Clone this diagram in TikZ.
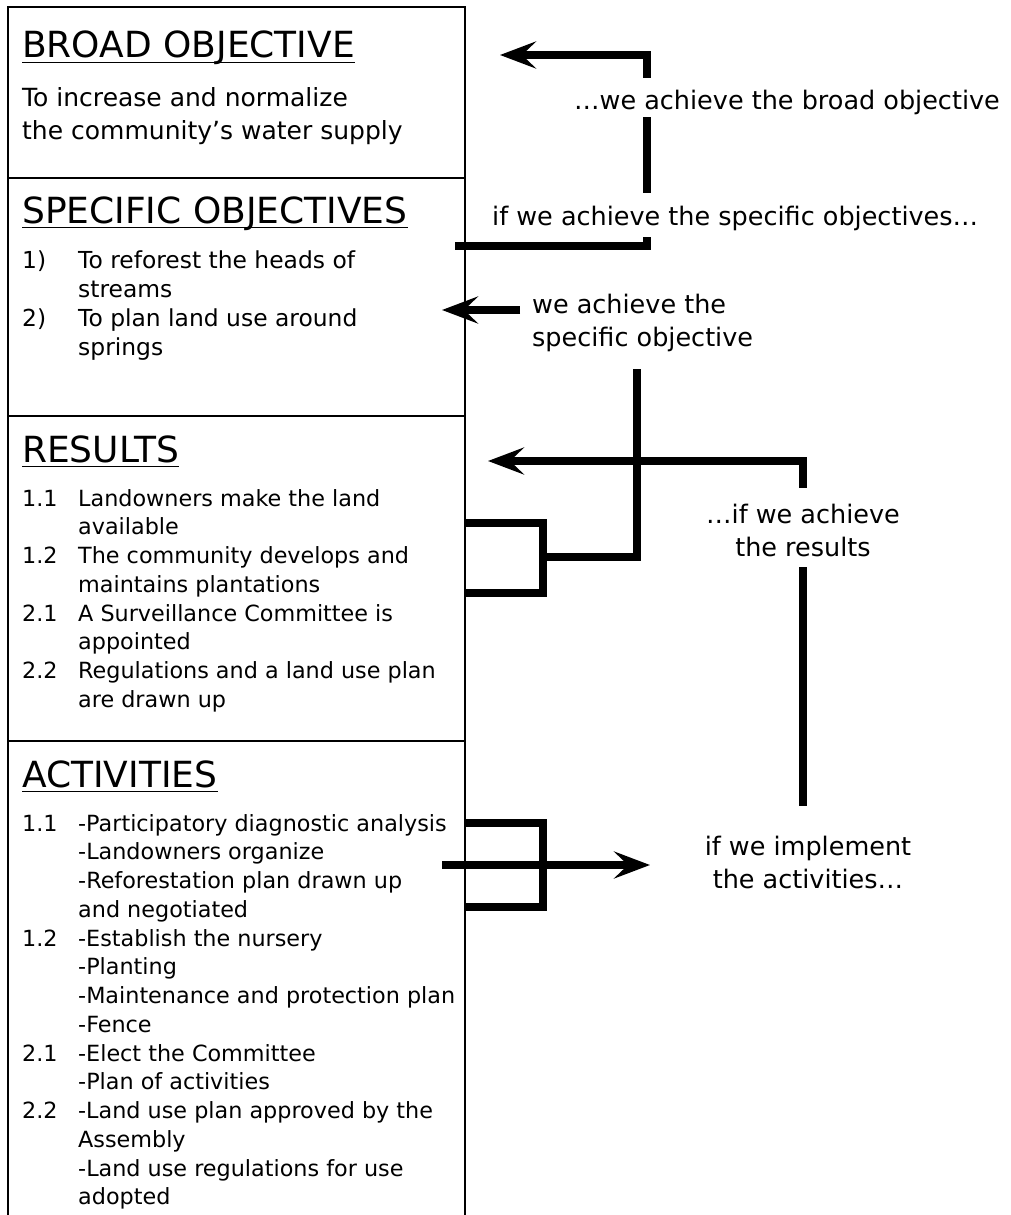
\documentclass[tikz,border=0pt]{standalone}
\usepackage{fontspec}
\setmainfont{DejaVu Sans}
\usetikzlibrary{arrows.meta,positioning}
\tikzset{
  lf/sect/.style={draw, line width=2.4pt, minimum width=457pt, anchor=north west, inner sep=0pt, outer sep=0pt},
  lf/head/.style={anchor=base west, inner sep=0pt, font=\fontsize{36}{40}\selectfont},
  lf/body/.style={anchor=base west, inner sep=0pt, font=\fontsize{22.3}{28.75}\selectfont},
  lf/txt/.style={inner sep=0pt, font=\fontsize{25.5}{33}\selectfont},
  lf/flow/.style={line width=7.5pt},
  lf/arrow/.style={lf/flow, -{Stealth[length=36pt, width=27pt, inset=14pt]}},
  lf/ul/.style={line width=1.7pt}
}

\begin{document}
\begin{tikzpicture}[x=1pt, y=-1pt]
  \useasboundingbox (0,0) rectangle (1011,1215);

  % the four levels of the framework
  \node[lf/sect, minimum height=171pt] (broad) at (8,7) {};
  \node[lf/sect, below=0pt of broad, minimum height=238pt] (spec) {};
  \node[lf/sect, below=0pt of spec, minimum height=325pt] (res) {};
  \node[lf/sect, below=0pt of res, minimum height=500pt] (act) {};

  % headings
  \node[lf/head] (hbroad) at ([xshift=14pt,yshift=-51pt]broad.north west) {BROAD OBJECTIVE};
  \node[lf/head] (hspec) at ([xshift=14pt,yshift=-45pt]spec.north west) {SPECIFIC OBJECTIVES};
  \node[lf/head] (hres) at ([xshift=14pt,yshift=-46pt]res.north west) {RESULTS};
  \node[lf/head] (hact) at ([xshift=14pt,yshift=-46pt]act.north west) {ACTIVITIES};
  \foreach \h in {hbroad,hspec,hres,hact}
    \draw[lf/ul] ([yshift=-4.5pt]\h.base west) -- ([yshift=-4.5pt]\h.base east);

  % contents
  \node[lf/body, font=\fontsize{25}{33}\selectfont] (tbroad) at ([yshift=-48pt]hbroad.base west)
    {\begin{tabular}[t]{@{}l@{}}To increase and normalize\\the community’s water supply\end{tabular}};
  \node[lf/body, font=\fontsize{23.4}{29}\selectfont] (tspec) at ([yshift=-45pt]hspec.base west)
    {\begin{tabular}[t]{@{}p{56pt}@{}l@{}}
      1) & To reforest the heads of\\
         & streams\\
      2) & To plan land use around\\
         & springs
    \end{tabular}};
  \node[lf/body] (tres) at ([yshift=-44pt]hres.base west)
    {\begin{tabular}[t]{@{}p{56pt}@{}l@{}}
      1.1 & Landowners make the land\\
          & available\\
      1.2 & The community develops and\\
          & maintains plantations\\
      2.1 & A Surveillance Committee is\\
          & appointed\\
      2.2 & Regulations and a land use plan\\
          & are drawn up
    \end{tabular}};
  \node[lf/body] (tact) at ([yshift=-44pt]hact.base west)
    {\begin{tabular}[t]{@{}p{56pt}@{}l@{}}
      1.1 & -Participatory diagnostic analysis\\
          & -Landowners organize\\
          & -Reforestation plan drawn up\\
          & and negotiated\\
      1.2 & -Establish the nursery\\
          & -Planting\\
          & -Maintenance and protection plan\\
          & -Fence\\
      2.1 & -Elect the Committee\\
          & -Plan of activities\\
      2.2 & -Land use plan approved by the\\
          & Assembly\\
          & -Land use regulations for use\\
          & adopted
    \end{tabular}};

  % the if-then labels
  \node[lf/txt, anchor=base west, text height=31pt, text depth=8pt] (lbroad) at (574,109)
    {…we achieve the broad objective};
  \node[lf/txt, anchor=base west, text height=32pt, text depth=12pt] (lspec) at (492,225)
    {if we achieve the specific objectives…};
  \node[lf/txt, anchor=base west, text depth=56pt] (lspecone) at (532,313)
    {\begin{tabular}[t]{@{}l@{}}we achieve the\\specific objective\end{tabular}};
  \node[lf/txt, anchor=base, text height=35pt, text depth=44pt] (lres) at (803,523)
    {\begin{tabular}[t]{@{}c@{}}…if we achieve\\the results\end{tabular}};
  \node[lf/txt, anchor=base, text height=49pt] (lact) at (808,855)
    {\begin{tabular}[t]{@{}c@{}}if we implement\\the activities…\end{tabular}};

  % free ends and corners
  \coordinate (a0) at (455,246);
  \coordinate (a1) at (647,246);
  \coordinate (a2) at (647,55);
  \coordinate (a3) at (500,55);
  \coordinate (b0) at (520,310);
  \coordinate (b1) at (442,310);
  \coordinate (rt) at (res.east |- 0,523);
  \coordinate (rb) at (res.east |- 0,593);
  \coordinate (rm) at (543,557);
  \coordinate (s1) at (637,369);
  \coordinate (c0) at (488,461);
  \coordinate (at) at (act.east |- 0,823);
  \coordinate (ab) at (act.east |- 0,907);
  \coordinate (d0) at (442,865);
  \coordinate (d1) at (650,865);

  % specific objectives -> broad objective
  \draw[lf/flow] (a0) -- (a1) -- (lspec.south -| a1);
  \draw[lf/flow] (lspec.north -| a1) -- (lbroad.south -| a1);
  \draw[lf/arrow] (lbroad.north -| a1) -- (a2) -- (a3);

  % results -> specific objective
  \draw[lf/arrow] (b0) -- (b1);
  \draw[lf/flow] (rt) -| (rb -| rm) -- (rb);
  \draw[lf/flow] (rm) -| (s1);

  % activities -> results
  \draw[lf/arrow] (lres.north -| 803,0) |- (c0);
  \draw[lf/flow] (lres.south -| 803,0) -- (lact.north -| 803,0);
  \draw[lf/flow] (at) -| (ab -| rm) -- (ab);
  \draw[lf/arrow] (d0) -- (d1);
\end{tikzpicture}
\end{document}
